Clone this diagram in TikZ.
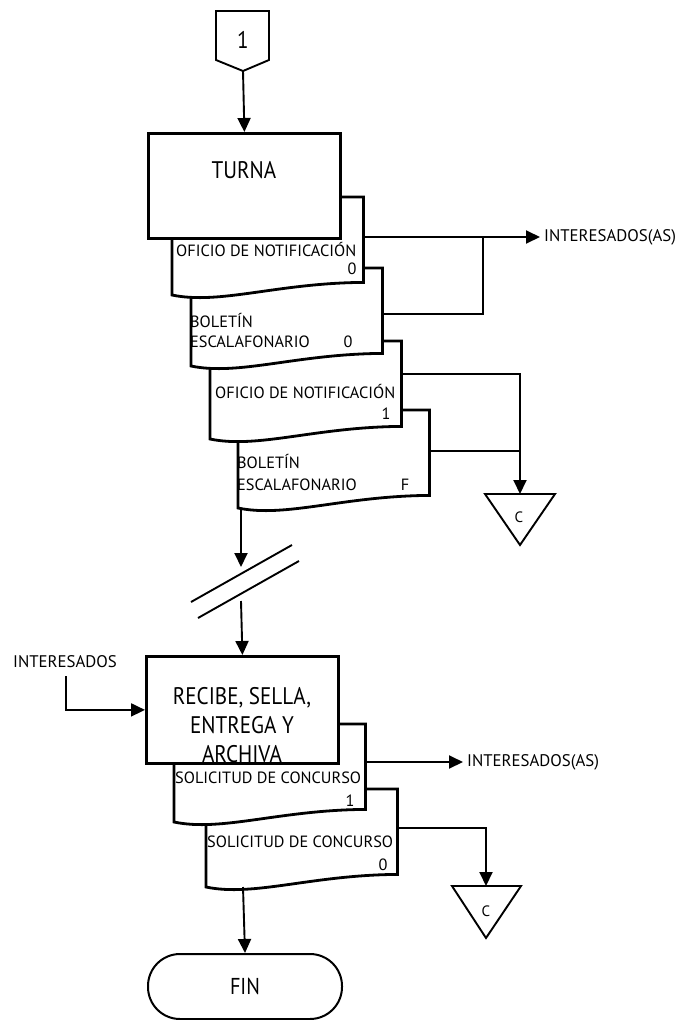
\documentclass[tikz,border=0pt]{standalone}
\usepackage{fontspec}
\setmainfont{PT Sans}
\newfontfamily\narrowfont{PT Sans}[FakeStretch=0.88]
\usetikzlibrary{arrows.meta,calc}
\newcommand{\docu}[3]{%
  \node[docnode] (#1) at (#2,#3) {};
  \draw[docline] (#1.north west) -- (#1.north east) -- (#1.south east)
    .. controls ({#2+105},{#3+86}) and ({#2+48},{#3+108}) .. (#2,{#3+98}) -- cycle;
}
\begin{document}
\begin{tikzpicture}[x=1pt,y=-1pt,
  boxst/.style={draw,line width=2.8pt,fill=white,inner sep=0pt},
  docline/.style={draw,line width=2.8pt,fill=white,line join=miter},
  conn/.style={line width=1.9pt},
  arr/.style={conn,-{Triangle[length=14pt,width=13pt]}},
  docnode/.style={anchor=north west,minimum width=191pt,minimum height=85pt,inner sep=0pt},
  small/.style={font=\fontsize{16.3}{19}\selectfont,inner sep=0pt},
  lab/.style={font=\fontsize{16.8}{20}\selectfont,inner sep=0pt},
  big/.style={font=\narrowfont\fontsize{24}{29}\selectfont,inner sep=0pt},
  cst/.style={font=\fontsize{15}{17}\selectfont,inner sep=0pt},
  thin/.style={line width=1.9pt,fill=white,line join=miter},
]
\useasboundingbox (0,0) rectangle (675,1020);

% off-page connector
\draw[thin] (216,11) -- (269,11) -- (269,60) -- (243,71) -- (216,60) -- cycle;
\node[big] (c1) at (243,40) {1};
\coordinate (c1b) at (243,71);

% documents (upper group), drawn back to front
\docu{d4}{238}{410}
\docu{d3}{210}{341}
\docu{d2}{191}{268}
\docu{d1}{172}{197}

\node[boxst,anchor=north west,minimum width=192pt,minimum height=105pt] (turna) at (147,132) {};
\node[big] (turnat) at (244,170) {TURNA};

\draw[arr] (c1b) -- (turna.north);

% document texts
\node[small,anchor=west] (d1a) at (176,250) {OFICIO DE NOTIFICACIÓN};
\node[small] (d1b) at (352,269) {0};
\node[small,anchor=west] (d2a) at (190,321) {BOLETÍN};
\node[small,anchor=west] (d2b) at (190,342) {ESCALAFONARIO};
\node[small] (d2c) at (348,342) {0};
\node[small,anchor=west] (d3a) at (215,392) {OFICIO DE NOTIFICACIÓN};
\node[small] (d3b) at (386,414) {1};
\node[small,anchor=west] (d4a) at (237,462) {BOLETÍN};
\node[small,anchor=west] (d4b) at (237,485) {ESCALAFONARIO};
\node[small] (d4c) at (405,485) {F};

% outputs of upper group
\node[lab,anchor=west] (int1) at (544,237) {INTERESADOS(AS)};
\draw[arr] ([yshift=-40pt]d1.north east) -- ([xshift=-4pt]int1.west);
\coordinate (j1) at (483,237);
\draw[conn] ([yshift=-46pt]d2.north east) -| (j1);

\draw[thin] (485,494) -- (555,494) -- (520,545) -- cycle;
\node[cst] (t1) at (519,517) {C};
\coordinate (t1top) at (520,494);
\draw[arr] ([yshift=-33pt]d3.north east) -| (t1top);
\coordinate (j2) at (520,451);
\draw[conn] ([yshift=-41pt]d4.north east) -- (j2);

% break
\coordinate (d4bot) at (241,509);
\coordinate (s1) at (241,567);
\coordinate (s2) at (241,601);
\draw[arr] (d4bot) -- (s1);
\coordinate (sl1a) at (191,602);
\coordinate (sl1b) at (292,545);
\coordinate (sl2a) at (198,618);
\coordinate (sl2b) at (299,561);
\draw[conn] (sl1a) -- (sl1b);
\draw[conn] (sl2a) -- (sl2b);

% lower group
\docu{d6}{206}{789}
\docu{d5}{174}{724}

\node[boxst,anchor=north west,minimum width=192pt,minimum height=107pt] (recibe) at (145,655) {};
\node[big,align=center] (recibet) at (242,725) {RECIBE, SELLA,\\ENTREGA Y\\ARCHIVA};
\draw[arr] (s2) -- (recibe.north);

\node[lab,anchor=west] (int0) at (13,662) {INTERESADOS};
\coordinate (i0) at (66,676);
\draw[arr] (i0) |- (recibe.west);

\node[small,anchor=west] (d5a) at (175,778) {SOLICITUD DE CONCURSO};
\node[small] (d5b) at (350,801) {1};
\node[small,anchor=west] (d6a) at (207,842) {SOLICITUD DE CONCURSO};
\node[small] (d6b) at (383,865) {0};

\node[lab,anchor=west] (int2) at (467,762) {INTERESADOS(AS)};
\draw[arr] ([yshift=-38pt]d5.north east) -- ([xshift=-4pt]int2.west);

\draw[thin] (452,886) -- (521,886) -- (486,938) -- cycle;
\node[cst] (t2) at (486,911) {C};
\coordinate (t2top) at (486,886);
\draw[arr] ([yshift=-39pt]d6.north east) -| (t2top);

\node[draw,line width=2pt,rounded corners=32pt,minimum width=194pt,minimum height=65pt,inner sep=0pt,font=\narrowfont\fontsize{23}{27}\selectfont] (fin) at (245,986.5) {FIN};
\coordinate (d6bot) at (243,887);
\draw[arr] (d6bot) -- (fin.north);
\end{tikzpicture}
\end{document}
